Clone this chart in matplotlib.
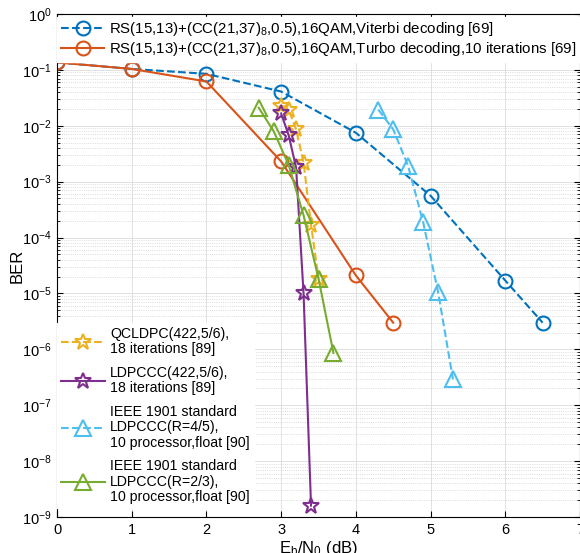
import numpy as np
import matplotlib
matplotlib.use('Agg')
import matplotlib.pyplot as plt
from matplotlib.ticker import LogLocator, NullFormatter

plt.rcParams['font.family'] = ['Liberation Sans', 'DejaVu Sans']
plt.rcParams['mathtext.fontset'] = 'custom'
plt.rcParams['mathtext.rm'] = 'Liberation Sans'
plt.rcParams['mathtext.it'] = 'Liberation Sans'
plt.rcParams['mathtext.bf'] = 'Liberation Sans'
plt.rcParams['font.size'] = 11

# BER curves
vit_x = [0, 1, 2, 3, 4, 5, 6, 6.5]
vit_y = [0.136, 0.104, 0.085, 0.041, 7.5e-3, 5.6e-4, 1.7e-5, 3e-6]

tur_x = [0, 1, 2, 3, 4, 4.5]
tur_y = [0.136, 0.104, 0.062, 2.3e-3, 2.1e-5, 3e-6]

qc_x = [3.0, 3.1, 3.2, 3.3, 3.4, 3.5]
qc_y = [0.023, 0.0195, 8.6e-3, 2.2e-3, 1.7e-4, 1.85e-5]

cc_x = [3.0, 3.1, 3.2, 3.3, 3.4]
cc_y = [0.0166, 6.8e-3, 1.8e-3, 1e-5, 1.6e-9]

i45_x = [4.3, 4.5, 4.7, 4.9, 5.1, 5.3]
i45_y = [0.0195, 8.6e-3, 1.9e-3, 1.9e-4, 1.07e-5, 2.9e-7]

i23_x = [2.7, 2.9, 3.1, 3.3, 3.5, 3.7]
i23_y = [0.021, 8e-3, 2.0e-3, 2.5e-4, 1.85e-5, 8.6e-7]

labels = [
    'RS(15,13)+(CC(21,37)$_8$,0.5),16QAM,Viterbi decoding [69]',
    'RS(15,13)+(CC(21,37)$_8$,0.5),16QAM,Turbo decoding,10 iterations [69]',
    'QCLDPC(422,5/6),\n18 iterations [89]',
    'LDPCCC(422,5/6),\n18 iterations [89]',
    'IEEE 1901 standard\nLDPCCC(R=4/5),\n10 processor,float [90]',
    'IEEE 1901 standard\nLDPCCC(R=2/3),\n10 processor,float [90]',
]

fig = plt.figure(figsize=(5.8, 5.53), dpi=100)
ax = fig.add_axes([57 / 580, 36 / 553, 523 / 580, 503 / 553])

lw = 1.5
l1, = ax.plot(vit_x, vit_y, '--', color='#0072BD', lw=lw, marker='o', ms=10, mfc='none', mew=1.5)
l2, = ax.plot(tur_x, tur_y, '-', color='#D95319', lw=lw, marker='o', ms=10, mfc='none', mew=1.5)
l3, = ax.plot(qc_x, qc_y, '--', color='#EDB120', lw=lw, marker='*', ms=12, mfc='none', mew=1.5)
l4, = ax.plot(cc_x, cc_y, '-', color='#7E2F8E', lw=lw, marker='*', ms=12, mfc='none', mew=1.5)
l5, = ax.plot(i45_x, i45_y, '--', color='#4DBEEE', lw=lw, marker='^', ms=11, mfc='none', mew=1.5)
l6, = ax.plot(i23_x, i23_y, '-', color='#77AC30', lw=lw, marker='^', ms=11, mfc='none', mew=1.5)

ax.set_yscale('log')
ax.set_xlim(0, 7)
ax.set_ylim(1e-9, 1)
ax.set_xticks(range(8))
ax.yaxis.set_major_locator(LogLocator(base=10, numticks=12))
ax.yaxis.set_minor_locator(LogLocator(base=10, subs=np.arange(2, 10), numticks=12))
ax.yaxis.set_minor_formatter(NullFormatter())

ax.grid(True, which='major', color='#dcdcdc', lw=0.6, ls='-')
ax.grid(True, which='minor', axis='y', color='#d0d0d0', lw=0.6, ls=':')
ax.set_axisbelow(True)
ax.tick_params(which='both', direction='in', top=True, right=True, labelsize=10.5)
ax.tick_params(which='major', length=4, pad=4)
ax.tick_params(which='minor', length=2)
for s in ax.spines.values():
    s.set_linewidth(0.8)

ax.set_xlabel('E$_\\mathrm{b}$/N$_0$ (dB)', fontsize=12, labelpad=2)
ax.set_ylabel('BER', fontsize=12)
ax.yaxis.set_label_coords(-0.062, 0.5)

leg1 = ax.legend([l1, l2], labels[:2], loc='upper left', bbox_to_anchor=(0.0, 0.995),
                 fontsize=10.8, handlelength=2.9, handletextpad=0.3, labelspacing=0.1,
                 borderpad=0.25, borderaxespad=0, frameon=True, fancybox=False,
                 edgecolor='white', framealpha=1)
ax.add_artist(leg1)

leg2 = ax.legend([l3, l4, l5, l6], labels[2:], loc='lower left', bbox_to_anchor=(0, 0.018),
                 fontsize=10.2, handlelength=3.1, handletextpad=0.35, labelspacing=0.7,
                 borderpad=0.3, borderaxespad=0, frameon=True, fancybox=False,
                 edgecolor='white', framealpha=1)
for t in leg2.get_texts():
    t.set_linespacing(1.1)

fig.savefig('out.png', dpi=100)
